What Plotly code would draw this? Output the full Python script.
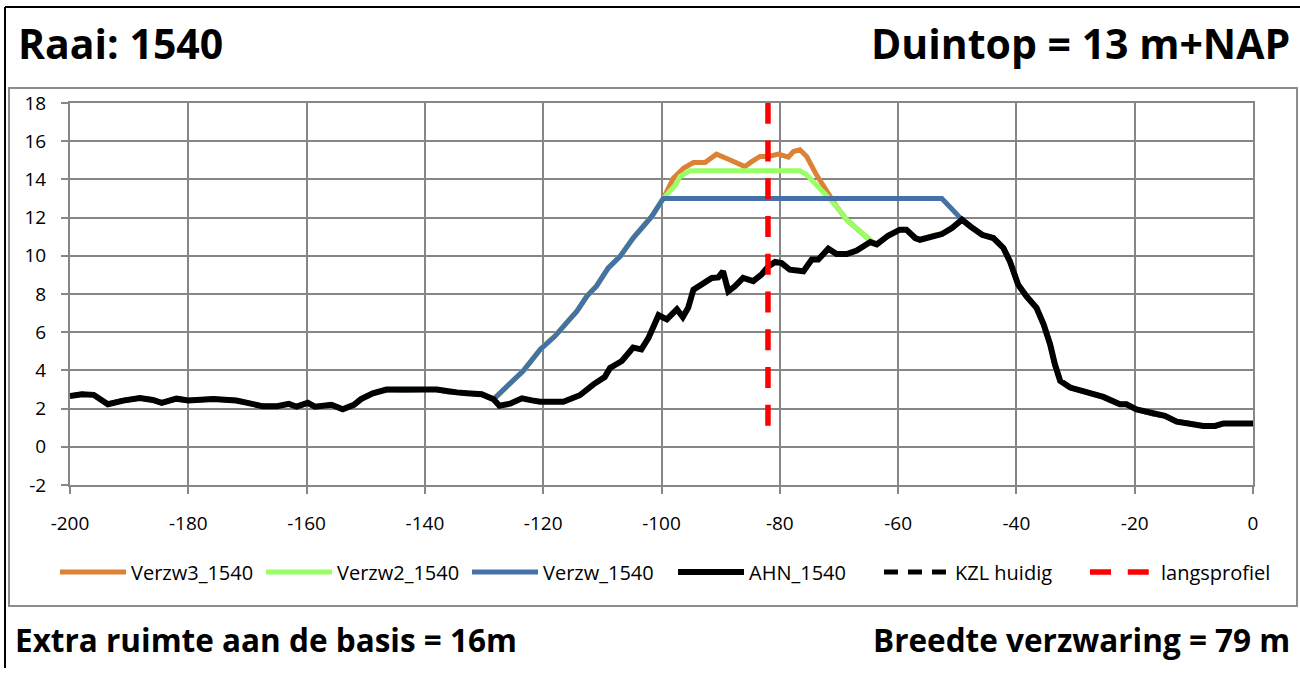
import plotly.graph_objects as go

# ---------------- data ----------------
AHN_X = [-200, -198, -196, -193.6, -191, -188.2, -186, -184.5, -182, -180, -175.8, -171.9, -170,
         -167.4, -165, -163, -161.7, -159.8, -158.6, -155.8, -153.9, -152, -150.8, -148.8, -146.5,
         -143.7, -140, -138, -136.2, -134.6, -132.9, -130.4, -128.4, -127.4, -125.6, -123.6, -121.9,
         -120.5, -116.6, -113.8, -111.5, -109.6, -108.7, -106.7, -104.8, -103.4, -102.2, -100.5,
         -99.1, -97.4, -96.4, -95.5, -94.6, -92.9, -91.5, -90.4, -89.6, -88.7, -87.6, -86.2, -84.5,
         -83.1, -81.9, -80.8, -79.7, -78.3, -76.0, -74.6, -73.5, -71.8, -70.4, -68.7, -67.0, -64.7,
         -63.6, -61.7, -59.7, -58.6, -57.1, -56.3, -54.0, -52.6, -50.9, -49.2, -47.8, -45.8, -43.9,
         -42.2, -41.1, -39.7, -38.3, -36.6, -35.4, -34.3, -33.5, -32.6, -30.9, -28.7, -25.3, -22.5,
         -21.4, -19.7, -16.85, -14.9, -12.9, -10.65, -8.4, -6.4, -5.0, 0]
AHN_Y = [2.66, 2.75, 2.72, 2.23, 2.42, 2.55, 2.45, 2.30, 2.52, 2.42, 2.50, 2.42, 2.30,
         2.12, 2.12, 2.25, 2.10, 2.30, 2.10, 2.20, 1.96, 2.20, 2.50, 2.80, 3.00,
         2.97, 3.00, 3.00, 2.88, 2.85, 2.80, 2.75, 2.49, 2.15, 2.26, 2.54, 2.43,
         2.36, 2.36, 2.70, 3.27, 3.65, 4.13, 4.49, 5.19, 5.10, 5.70, 6.89,
         6.67, 7.20, 6.79, 7.28, 8.23, 8.53, 8.84, 8.87, 9.19, 8.14, 8.40, 8.84, 8.67,
         9.02, 9.45, 9.68, 9.62, 9.27, 9.19, 9.80, 9.80, 10.37, 10.09, 10.09, 10.27, 10.72,
         10.60, 11.05, 11.37, 11.37, 10.93, 10.84, 11.07, 11.14, 11.45, 11.89, 11.54, 11.10, 10.93,
         10.41, 9.71, 8.49, 7.88, 7.28, 6.41, 5.36, 4.32, 3.45, 3.10, 2.92, 2.61, 2.23,
         2.23, 1.96, 1.71, 1.62, 1.32, 1.22, 1.09, 1.09, 1.22, 1.22]

# new dune front slope (shared by all reinforcement variants)
SLOPE_X = [-125.3, -123.4, -120.5, -118.0, -115.8, -114.3, -112.6, -111.0, -109.0, -107.0,
           -104.8, -103.1, -101.65, -99.7]
SLOPE_Y = [3.41, 3.97, 5.10, 5.80, 6.58, 7.10, 7.89, 8.41, 9.37, 9.97,
           10.93, 11.54, 12.06, 13.0]

# Verzw (blue): crest at 13 m+NAP
VERZW_TOP_X = [-52.6, -49.2]
VERZW_TOP_Y = [13.0, 11.89]

# Verzw2 (green)
VERZW2_TOP_X = [-97.6, -96.9, -95.2, -76.6, -75.45, -71.8, -70.4, -68.7, -66.4, -64.2]
VERZW2_TOP_Y = [13.72, 14.15, 14.45, 14.45, 14.24, 13.05, 12.58, 11.89, 11.28, 10.67]

# Verzw3 (orange)
VERZW3_TOP_X = [-98.0, -96.3, -94.6, -92.65, -90.7, -88.4, -85.9, -84.75, -83.35, -81.9,
                -80.25, -78.55, -77.7, -76.6, -75.45, -73.8, -71.8]
VERZW3_TOP_Y = [14.06, 14.58, 14.88, 14.88, 15.32, 15.02, 14.67, 14.93, 15.20, 15.20,
                15.32, 15.16, 15.46, 15.55, 15.20, 14.24, 13.20]

# longitudinal profile position
LANGS_X = [-82, -82]
LANGS_Y = [1.1, 18]

# KZL huidig (no visible data in the chart)
KZL_X = [None]
KZL_Y = [None]

X_TICKS = [-200, -180, -160, -140, -120, -100, -80, -60, -40, -20, 0]
X_TICK_TEXT = ["-200", "-180", "-160", "-140", "-120", "-100", "-80", "-60", "-40", "-20", "0"]
Y_TICKS = [-2, 0, 2, 4, 6, 8, 10, 12, 14, 16, 18]
Y_TICK_TEXT = ["-2", "0", "2", "4", "6", "8", "10", "12", "14", "16", "18"]

TITLE_LEFT = "Raai: 1540"
TITLE_RIGHT = "Duintop = 13 m+NAP"
FOOT_LEFT = "Extra ruimte aan de basis = 16m"
FOOT_RIGHT = "Breedte verzwaring = 79 m"


def pts_before(xs, ys, xmax):
    return [(x, y) for x, y in zip(xs, ys) if x <= xmax]


def pts_after(xs, ys, xmin):
    return [(x, y) for x, y in zip(xs, ys) if x >= xmin]


def split(pts):
    return [p[0] for p in pts], [p[1] for p in pts]


base = pts_before(AHN_X, AHN_Y, -128.4) + list(zip(SLOPE_X, SLOPE_Y))
verzw = base + list(zip(VERZW_TOP_X, VERZW_TOP_Y)) + pts_after(AHN_X, AHN_Y, -47.8)
verzw2 = base + list(zip(VERZW2_TOP_X, VERZW2_TOP_Y)) + pts_after(AHN_X, AHN_Y, -63.6)
verzw3 = (base + list(zip(VERZW3_TOP_X, VERZW3_TOP_Y))
          + [p for p in zip(VERZW2_TOP_X, VERZW2_TOP_Y) if p[0] >= -70.4]
          + pts_after(AHN_X, AHN_Y, -63.6))

# ---------------- layout geometry (pixels) ----------------
W, H = 1300, 675
PL, PR, PT, PB = 70, 1253, 103, 485
pw, ph = PR - PL, PB - PT


def px(x):
    return (x - PL) / pw


def py(y):
    return (PB - y) / ph


GRID = "#868686"
FONT = "Open Sans"

fig = go.Figure()
v3x, v3y = split(verzw3)
v2x, v2y = split(verzw2)
v1x, v1y = split(verzw)
fig.add_trace(go.Scatter(x=v3x, y=v3y, mode="lines", name="Verzw3_1540",
                         line=dict(color="#DC8236", width=5)))
fig.add_trace(go.Scatter(x=v2x, y=v2y, mode="lines", name="Verzw2_1540",
                         line=dict(color="#99FF66", width=5)))
fig.add_trace(go.Scatter(x=v1x, y=v1y, mode="lines", name="Verzw_1540",
                         line=dict(color="#4571A6", width=5)))
fig.add_trace(go.Scatter(x=AHN_X, y=AHN_Y, mode="lines", name="AHN_1540",
                         line=dict(color="#000000", width=6)))
fig.add_trace(go.Scatter(x=KZL_X, y=KZL_Y, mode="lines", name="KZL huidig",
                         line=dict(color="#000000", width=5, dash="14px,10px")))
fig.add_trace(go.Scatter(x=LANGS_X, y=LANGS_Y, mode="lines", name="langsprofiel",
                         line=dict(color="#FF0000", width=5.5, dash="21px,16.75px")))

axis_common = dict(showgrid=True, gridcolor=GRID, gridwidth=2, zeroline=False,
                   showline=True, linecolor=GRID, linewidth=2, mirror=True,
                   ticks="outside", ticklen=7, tickwidth=2, tickcolor=GRID,
                   tickfont=dict(family=FONT, size=19, color="#000000"))

fig.update_xaxes(range=[-200, 0], tickmode="array", tickvals=X_TICKS, ticktext=X_TICK_TEXT,
                 ticklabelstandoff=13, **axis_common)
fig.update_yaxes(range=[-2, 18], tickmode="array", tickvals=Y_TICKS, ticktext=Y_TICK_TEXT,
                 ticklabelstandoff=11, **axis_common)

shapes = [
    # outer black frame (left + top)
    dict(type="line", xref="paper", yref="paper", x0=px(5), x1=px(5), y0=py(7), y1=py(668),
         line=dict(color="#000000", width=2)),
    dict(type="line", xref="paper", yref="paper", x0=px(5), x1=px(1300), y0=py(7), y1=py(7),
         line=dict(color="#000000", width=2)),
    # chart area box
    dict(type="rect", xref="paper", yref="paper", x0=px(9), x1=px(1297), y0=py(88), y1=py(606),
         line=dict(color="#8C8C8C", width=2), layer="below"),
]

annotations = [
    dict(text=TITLE_LEFT, x=px(16), y=py(43), xanchor="left", yanchor="middle",
         font=dict(family=FONT, size=41, color="#000000", weight="bold")),
    dict(text=TITLE_RIGHT, x=px(1292), y=py(43), xanchor="right", yanchor="middle",
         font=dict(family=FONT, size=41, color="#000000", weight="bold")),
    dict(text=FOOT_LEFT, x=px(13), y=py(639), xanchor="left", yanchor="middle",
         font=dict(family=FONT, size=31.5, color="#000000", weight="bold")),
    dict(text=FOOT_RIGHT, x=px(1292), y=py(639), xanchor="right", yanchor="middle",
         font=dict(family=FONT, size=31.5, color="#000000", weight="bold")),
]
for a in annotations:
    a.update(xref="paper", yref="paper", showarrow=False)

fig.update_layout(
    width=W, height=H,
    margin=dict(l=PL, r=W - PR, t=PT, b=H - PB, autoexpand=False),
    paper_bgcolor="#FFFFFF", plot_bgcolor="#FFFFFF",
    showlegend=True,
    legend=dict(orientation="h", x=px(55), y=py(572), xanchor="left", yanchor="middle",
                font=dict(family=FONT, size=20, color="#000000"),
                bgcolor="rgba(0,0,0,0)", itemwidth=66, traceorder="normal",
                entrywidth=125, entrywidthmode="pixels"),
    shapes=shapes,
    annotations=annotations,
    font=dict(family=FONT),
)

fig.write_html("out.html", config={"displayModeBar": False},
               post_script="document.body.style.margin='0';document.body.style.padding='0';")
